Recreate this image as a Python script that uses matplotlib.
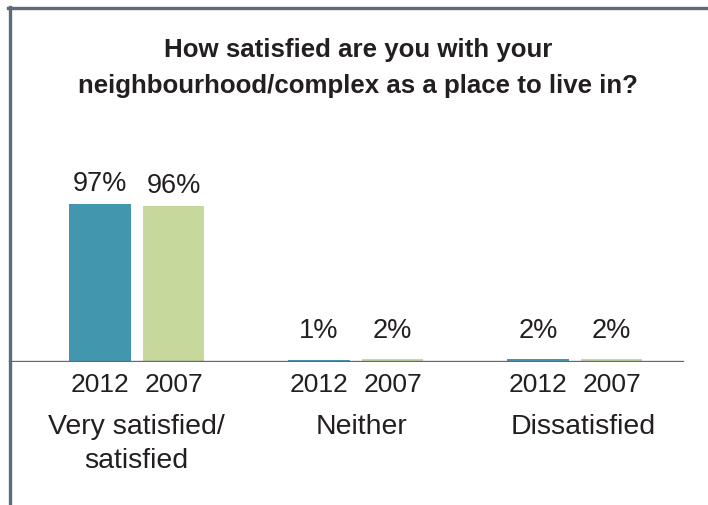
import matplotlib.pyplot as plt
from matplotlib.lines import Line2D
import numpy as np

plt.rcParams['font.family'] = ['Liberation Sans', 'DejaVu Sans']

categories = ['Very satisfied/\nsatisfied', 'Neither', 'Dissatisfied']
years = ['2012', '2007']
values_2012 = [97, 1, 2]
values_2007 = [96, 2, 2]

teal = '#4296ae'
green = '#c6d89c'
frame = '#5b6b79'
text_col = '#231f20'

W, H = 708, 506
fig = plt.figure(figsize=(W / 100, H / 100), dpi=100)

# frame lines along top and left edge
fig.add_artist(Line2D([8 / W, 1], [1 - 8.5 / H, 1 - 8.5 / H], color=frame, lw=2.4))
fig.add_artist(Line2D([9.5 / W, 9.5 / W], [0, 1 - 7.5 / H], color=frame, lw=2.4))

fig.text(358 / W, 1 - 68 / H,
         'How satisfied are you with your\nneighbourhood/complex as a place to live in?',
         ha='center', va='center', fontsize=18.6, fontweight='bold',
         color=text_col, linespacing=1.62)

ax = fig.add_axes([0, 143 / H, 1, 163 / H])
ax.set_ylim(0, 100)
ax.set_xlim(-136.75 / 219, (W - 136.75) / 219)
ax.axis('off')

x = np.arange(len(categories))
off = 0.168
bw = 0.279
ax.bar(x - off, values_2012, bw, color=teal)
ax.bar(x + off, values_2007, bw, color=green)
ax.axhline(0, xmin=10 / W, xmax=682 / W, color=frame, lw=2.4)

for xs, vals in [(x - off, values_2012), (x + off, values_2007)]:
    for xi, v in zip(xs, vals):
        ax.annotate(f'{v}%', (xi, max(v, 7)), xytext=(0, 10),
                    textcoords='offset points', ha='center', va='baseline',
                    fontsize=19.5, color=text_col)

for xi in x:
    for xo, yr in zip([xi - off, xi + off], years):
        ax.annotate(yr, (xo, 0), xytext=(0, -15.5), textcoords='offset points',
                    ha='center', va='center', fontsize=19, color=text_col)

# category names sit a little right of the group centre on the later groups
nudge = [0, 4.5, 6]
for xi, cat, dx in zip(x, categories, nudge):
    ax.annotate(cat, (xi, 0), xytext=(dx, -37), textcoords='offset points',
                ha='center', va='top', fontsize=20.5, color=text_col,
                linespacing=1.38)

fig.savefig('out.png', dpi=100)
